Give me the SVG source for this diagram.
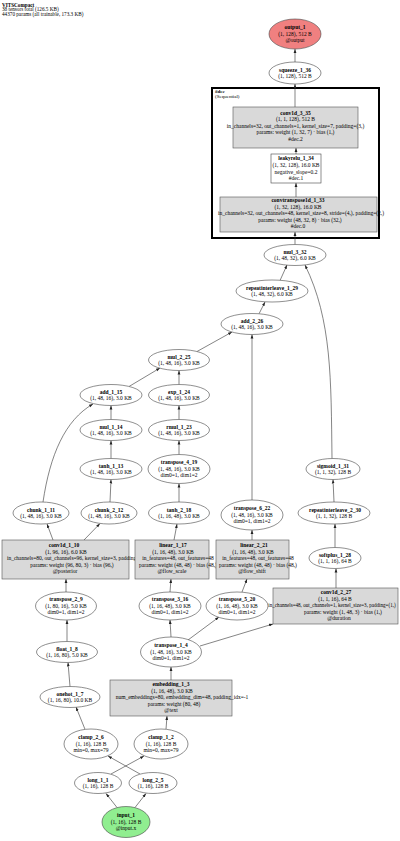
<svg xmlns="http://www.w3.org/2000/svg" width="400" height="841" viewBox="0 0 400 841">
<style>
text{font-family:"Liberation Serif","Times New Roman",serif;font-size:5.5px;fill:#000;text-anchor:middle}
.b{font-weight:bold}
.l{text-anchor:start}
.e{fill:#fff;stroke:#444;stroke-width:0.6}
.bx{fill:#d9d9d9;stroke:#555;stroke-width:0.6}
.w{fill:#fff;stroke:#444;stroke-width:0.6}
#edges path{fill:none;stroke:#333;stroke-width:0.6;marker-end:url(#a)}
</style>
<defs>
<marker id="a" viewBox="0 0 10 10" refX="10" refY="5" markerWidth="4" markerHeight="4" orient="auto" markerUnits="userSpaceOnUse"><path d="M0,1.5 L10,5 L0,8.5z" fill="#222"/></marker>
</defs>
<rect width="400" height="841" fill="#fff"/>
<g id="title">
<text class="l b" x="2" y="6.5" style="font-size:5.2px">VITSCompact</text>
<text class="l" x="2" y="11.3" style="font-size:5.2px">38 tensors total (126.5 KB)</text>
<text class="l" x="2" y="16.1" style="font-size:5.2px">44370 params (all trainable, 173.3 KB)</text>
</g>
<g id="cluster_dec">
<rect x="212" y="88" width="167" height="150" fill="none" stroke="#000" stroke-width="2"/>
<text class="l b" x="215" y="92.5" style="font-size:5px">#dec</text>
<text class="l" x="215" y="97.5" style="font-size:5px">(Sequential)</text>
</g>
<g id="edges">
<path d="M295,62 L295,49"/>
<path d="M295,107 L295,84"/>
<path d="M296,154 L296,148"/>
<path d="M296,197 L296,183"/>
<path d="M295,244.5 L295,232"/>
<path d="M280,280.5 L287,265"/>
<path d="M259,313.8 L265,302"/>
<path d="M197,351.5 L232,332"/>
<path d="M252,500 L252,334.5"/>
<path d="M129,386.5 L160,368"/>
<path d="M179,384.5 L179,370.5"/>
<path d="M111,419.5 L111,405.5"/>
<path d="M179,419.5 L179,405.5"/>
<path d="M111,458.5 L111,440.5"/>
<path d="M179,454.5 L179,440.5"/>
<path d="M110,502 L111,479.5"/>
<path d="M179,502 L179,483.5"/>
<path d="M43,502 C50,455 65,420 93,404"/>
<path d="M332,458.5 C331,380 332,320 305,265"/>
<path d="M334,502 L333,479.5"/>
<path d="M335,547.5 L335,524"/>
<path d="M336,588 L336,568.5"/>
<path d="M53,540 L47,524"/>
<path d="M84,540 L100,523.5"/>
<path d="M174,540 L177,524"/>
<path d="M252,540 L252,530"/>
<path d="M66,592 L66,579"/>
<path d="M170,592 L171,579"/>
<path d="M242,592 L247,579"/>
<path d="M67,641.5 L67,620"/>
<path d="M171,637 L170,620"/>
<path d="M188,640 L219,617"/>
<path d="M200,646 L273,624"/>
<path d="M70,686.5 L68,662.5"/>
<path d="M171,680 L171,667"/>
<path d="M85,729.3 L76,707"/>
<path d="M166,729.3 L167,716"/>
<path d="M111,774 L144,756"/>
<path d="M140,774 L108,756"/>
<path d="M117,807.5 L106,793.5"/>
<path d="M135,807.5 L146,793.5"/>
</g>
<g id="output_1"><ellipse cx="295" cy="34" rx="26" ry="15" fill="#f08080" stroke="#444" stroke-width="0.6"/>
<text class="b" x="295" y="29.4">output_1</text><text x="295" y="35.9">(1, 128), 512 B</text><text x="295" y="42.4">@output</text></g>
<g id="squeeze_1_36"><ellipse class="e" cx="295" cy="73" rx="26" ry="11"/>
<text class="b" x="295" y="71.65">squeeze_1_36</text><text x="295" y="78.15">(1, 128), 512 B</text></g>
<g id="conv1d_3_35"><rect class="bx" x="233" y="107" width="125" height="41"/>
<text class="b" x="295.5" y="114.9">conv1d_3_35</text><text x="295.5" y="121.4">(1, 1, 128), 512 B</text><text x="295.5" y="127.9">in_channels=32, out_channels=1, kernel_size=7, padding=(3,)</text><text x="295.5" y="134.4">params: weight (1, 32, 7) · bias (1,)</text><text x="295.5" y="140.9">#dec.2</text></g>
<g id="leakyrelu_1_34"><rect class="w" x="271" y="154" width="50" height="29"/>
<text class="b" x="296" y="160.4">leakyrelu_1_34</text><text x="296" y="167">(1, 32, 128), 16.0 KB</text><text x="296" y="173.6">negative_slope=0.2</text><text x="296" y="180.2">#dec.1</text></g>
<g id="convtranspose1d_1_33"><rect class="bx" x="220" y="197" width="157" height="35"/>
<text class="b" x="298" y="202.4">convtranspose1d_1_33</text><text x="298" y="208.9">(1, 32, 128), 16.0 KB</text><text x="301" y="215.4">in_channels=32, out_channels=48, kernel_size=8, stride=(4,), padding=(2,)</text><text x="300" y="221.9">params: weight (48, 32, 8) · bias (32,)</text><text x="298" y="228.4">#dec.0</text></g>
<g id="mul_3_32"><ellipse class="e" cx="295" cy="255" rx="31" ry="10.5"/>
<text class="b" x="295" y="253.65">mul_3_32</text><text x="295" y="260.15">(1, 48, 32), 6.0 KB</text></g>
<g id="repeatinterleave_1_29"><ellipse class="e" cx="272" cy="291" rx="36" ry="11"/>
<text class="b" x="272" y="289.65">repeatinterleave_1_29</text><text x="272" y="296.15">(1, 48, 32), 6.0 KB</text></g>
<g id="add_2_26"><ellipse class="e" cx="252" cy="324" rx="31" ry="10.5"/>
<text class="b" x="252" y="322.65">add_2_26</text><text x="252" y="329.15">(1, 48, 16), 3.0 KB</text></g>
<g id="mul_2_25"><ellipse class="e" cx="179" cy="360" rx="30.5" ry="10.5"/>
<text class="b" x="179" y="358.65">mul_2_25</text><text x="179" y="365.15">(1, 48, 16), 3.0 KB</text></g>
<g id="add_1_15"><ellipse class="e" cx="111" cy="395" rx="31" ry="10.5"/>
<text class="b" x="111" y="393.65">add_1_15</text><text x="111" y="400.15">(1, 48, 16), 3.0 KB</text></g>
<g id="exp_1_24"><ellipse class="e" cx="179" cy="395" rx="30.5" ry="10.5"/>
<text class="b" x="179" y="393.65">exp_1_24</text><text x="179" y="400.15">(1, 48, 16), 3.0 KB</text></g>
<g id="mul_1_14"><ellipse class="e" cx="111" cy="430" rx="31" ry="10.5"/>
<text class="b" x="111" y="428.65">mul_1_14</text><text x="111" y="435.15">(1, 48, 16), 3.0 KB</text></g>
<g id="rmul_1_23"><ellipse class="e" cx="179" cy="430" rx="30.5" ry="10.5"/>
<text class="b" x="179" y="428.65">rmul_1_23</text><text x="179" y="435.15">(1, 48, 16), 3.0 KB</text></g>
<g id="tanh_1_13"><ellipse class="e" cx="111" cy="469" rx="31" ry="10.5"/>
<text class="b" x="111" y="467.65">tanh_1_13</text><text x="111" y="474.15">(1, 48, 16), 3.0 KB</text></g>
<g id="transpose_4_19"><ellipse class="e" cx="179" cy="469" rx="31" ry="14.5"/>
<text class="b" x="179" y="464.4">transpose_4_19</text><text x="179" y="470.9">(1, 48, 16), 3.0 KB</text><text x="179" y="477.4">dim0=1, dim1=2</text></g>
<g id="sigmoid_1_31"><ellipse class="e" cx="333" cy="469" rx="27" ry="10.5"/>
<text class="b" x="333" y="467.65">sigmoid_1_31</text><text x="333" y="474.15">(1, 1, 32), 128 B</text></g>
<g id="chunk_1_11"><ellipse class="e" cx="41" cy="513" rx="28" ry="11"/>
<text class="b" x="41" y="511.65">chunk_1_11</text><text x="41" y="518.15">(1, 48, 16), 3.0 KB</text></g>
<g id="chunk_2_12"><ellipse class="e" cx="109" cy="513" rx="28" ry="11"/>
<text class="b" x="109" y="511.65">chunk_2_12</text><text x="109" y="518.15">(1, 48, 16), 3.0 KB</text></g>
<g id="tanh_2_18"><ellipse class="e" cx="179" cy="513" rx="30.5" ry="11"/>
<text class="b" x="179" y="511.65">tanh_2_18</text><text x="179" y="518.15">(1, 16, 48), 3.0 KB</text></g>
<g id="transpose_6_22"><ellipse class="e" cx="252" cy="515" rx="31" ry="15"/>
<text class="b" x="252" y="510.4">transpose_6_22</text><text x="252" y="516.9">(1, 48, 16), 3.0 KB</text><text x="252" y="523.4">dim0=1, dim1=2</text></g>
<g id="repeatinterleave_2_30"><ellipse class="e" cx="334" cy="513" rx="36" ry="11"/>
<text class="b" x="335" y="511.65">repeatinterleave_2_30</text><text x="334" y="518.15">(1, 1, 32), 128 B</text></g>
<g id="conv1d_1_10"><rect class="bx" x="2" y="540" width="127" height="39"/>
<text class="b" x="64" y="547.4">conv1d_1_10</text><text x="66" y="553.9">(1, 96, 16), 6.0 KB</text><text x="77" y="560.4">in_channels=80, out_channels=96, kernel_size=3, padding=(1,)</text><text x="72" y="566.9">params: weight (96, 80, 3) · bias (96,)</text><text x="65" y="573.4">@posterior</text></g>
<g id="linear_1_17"><rect class="bx" x="135" y="540" width="74" height="39"/>
<text class="b" x="173" y="547.4">linear_1_17</text><text x="173" y="553.9">(1, 16, 48), 3.0 KB</text><text x="178" y="560.4">in_features=48, out_features=48</text><text x="178" y="566.9">params: weight (48, 48) · bias (48,)</text><text x="172" y="573.4">@flow_scale</text></g>
<g id="linear_2_21"><rect class="bx" x="216" y="540" width="73" height="39"/>
<text class="b" x="254" y="547.4">linear_2_21</text><text x="253" y="553.9">(1, 16, 48), 3.0 KB</text><text x="258" y="560.4">in_features=48, out_features=48</text><text x="258" y="566.9">params: weight (48, 48) · bias (48,)</text><text x="252" y="573.4">@flow_shift</text></g>
<g id="softplus_1_28"><ellipse class="e" cx="335" cy="558" rx="26" ry="10.5"/>
<text class="b" x="335" y="556.65">softplus_1_28</text><text x="335" y="563.15">(1, 1, 16), 64 B</text></g>
<g id="conv1d_2_27"><rect class="bx" x="273" y="588" width="125" height="36"/>
<text class="b" x="336" y="594.4">conv1d_2_27</text><text x="335" y="600.9">(1, 1, 16), 64 B</text><text x="332" y="607.4" style="font-size:5.1px">in_channels=48, out_channels=1, kernel_size=3, padding=(1,)</text><text x="343" y="613.9">params: weight (1, 48, 3) · bias (1,)</text><text x="339" y="620.4">@duration</text></g>
<g id="transpose_2_9"><ellipse class="e" cx="66" cy="606" rx="30.5" ry="14"/>
<text class="b" x="66" y="601.4">transpose_2_9</text><text x="66" y="607.9">(1, 80, 16), 5.0 KB</text><text x="66" y="614.4">dim0=1, dim1=2</text></g>
<g id="transpose_3_16"><ellipse class="e" cx="170" cy="606" rx="31" ry="14"/>
<text class="b" x="170" y="601.4">transpose_3_16</text><text x="170" y="607.9">(1, 16, 48), 3.0 KB</text><text x="170" y="614.4">dim0=1, dim1=2</text></g>
<g id="transpose_5_20"><ellipse class="e" cx="237" cy="606" rx="31" ry="14"/>
<text class="b" x="237" y="601.4">transpose_5_20</text><text x="237" y="607.9">(1, 16, 48), 3.0 KB</text><text x="237" y="614.4">dim0=1, dim1=2</text></g>
<g id="float_1_8"><ellipse class="e" cx="67" cy="652" rx="30.5" ry="10.5"/>
<text class="b" x="67" y="650.65">float_1_8</text><text x="67" y="657.15">(1, 16, 80), 5.0 KB</text></g>
<g id="transpose_1_4"><ellipse class="e" cx="171" cy="652" rx="30.5" ry="15"/>
<text class="b" x="171" y="647.4">transpose_1_4</text><text x="171" y="653.9">(1, 48, 16), 3.0 KB</text><text x="171" y="660.4">dim0=1, dim1=2</text></g>
<g id="onehot_1_7"><ellipse class="e" cx="70" cy="697" rx="30" ry="10.5"/>
<text class="b" x="70" y="695.65">onehot_1_7</text><text x="70" y="702.15">(1, 16, 80), 10.0 KB</text></g>
<g id="embedding_1_3"><rect class="bx" x="110" y="680" width="122" height="36"/>
<text class="b" x="171" y="686.4">embedding_1_3</text><text x="172" y="692.9">(1, 16, 48), 3.0 KB</text><text x="182" y="699.4">num_embeddings=80, embedding_dim=48, padding_idx=-1</text><text x="174" y="705.9">params: weight (80, 48)</text><text x="171" y="712.4">@text</text></g>
<g id="clamp_2_6"><ellipse class="e" cx="91" cy="744" rx="27" ry="15"/>
<text class="b" x="91" y="739.4">clamp_2_6</text><text x="91" y="745.9">(1, 16), 128 B</text><text x="91" y="752.4">min=0, max=79</text></g>
<g id="clamp_1_2"><ellipse class="e" cx="161" cy="744" rx="27" ry="15"/>
<text class="b" x="161" y="739.4">clamp_1_2</text><text x="161" y="745.9">(1, 16), 128 B</text><text x="161" y="752.4">min=0, max=79</text></g>
<g id="long_1_1"><ellipse class="e" cx="98" cy="783" rx="23.5" ry="10.5"/>
<text class="b" x="98" y="781.65">long_1_1</text><text x="98" y="788.15">(1, 16), 128 B</text></g>
<g id="long_2_5"><ellipse class="e" cx="153" cy="783" rx="24" ry="10.5"/>
<text class="b" x="153" y="781.65">long_2_5</text><text x="153" y="788.15">(1, 16), 128 B</text></g>
<g id="input_1"><ellipse cx="126" cy="822" rx="24" ry="15.5" fill="#90ee90" stroke="#444" stroke-width="0.6"/>
<text class="b" x="126" y="817.4">input_1</text><text x="126" y="823.9">(1, 16), 128 B</text><text x="126" y="830.4">@input.x</text></g>
</svg>
